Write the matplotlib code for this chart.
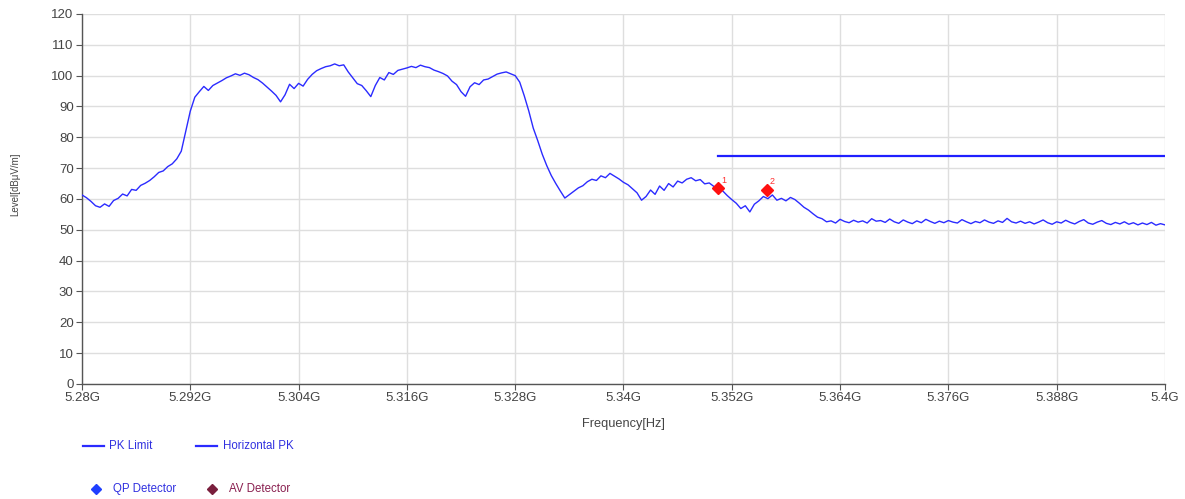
import numpy as np
import matplotlib
matplotlib.use('Agg')
import matplotlib.pyplot as plt
from matplotlib.lines import Line2D

plt.rcParams['font.family'] = ['Liberation Sans', 'DejaVu Sans']

# Sweep: 5.28 GHz .. 5.40 GHz, one reading every 0.5 MHz
f_start = 5.28e9
f_step = 0.5e6
level = [
    61.3, 60.4, 59.2, 57.8, 57.3, 58.4, 57.6, 59.5, 60.2, 61.6,
    61.0, 63.1, 62.8, 64.4, 65.1, 66.0, 67.2, 68.6, 69.1, 70.5,
    71.4, 73.0, 75.5, 82.0, 88.5, 93.0, 94.8, 96.5, 95.2, 96.8,
    97.6, 98.4, 99.3, 99.9, 100.6, 100.1, 100.8, 100.3, 99.4, 98.7,
    97.6, 96.3, 95.0, 93.6, 91.5, 93.8, 97.2, 95.8, 97.5, 96.6,
    98.8, 100.4, 101.6, 102.3, 102.9, 103.2, 103.8, 103.2, 103.5, 101.2,
    99.3, 97.4, 96.8, 95.1, 93.2, 96.8, 99.4, 98.6, 101.0, 100.4,
    101.7, 102.1, 102.5, 103.0, 102.6, 103.4, 102.9, 102.6, 101.8, 101.3,
    100.7, 99.9, 98.2, 97.1, 94.8, 93.3, 96.4, 97.7, 97.1, 98.6,
    98.9, 99.7, 100.5, 100.9, 101.2, 100.6, 100.0, 97.9, 93.5, 88.6,
    83.0, 78.9, 74.5, 70.8, 67.6, 65.0, 62.6, 60.3, 61.4, 62.5,
    63.6, 64.3, 65.6, 66.4, 66.0, 67.5, 66.9, 68.3, 67.4, 66.5,
    65.4, 64.6, 63.3, 62.0, 59.6, 60.8, 62.9, 61.5, 64.2, 62.8,
    65.0, 63.9, 65.8, 65.2, 66.4, 66.9, 65.9, 66.3, 64.9, 65.2,
    64.1, 63.3, 62.6, 61.1, 59.8, 58.6, 56.9, 57.8, 55.8, 58.3,
    59.4, 60.8, 60.1, 61.3, 59.6, 60.2, 59.4, 60.5, 59.8, 58.6,
    57.3, 56.4, 55.2, 54.1, 53.6, 52.6, 52.9, 52.2, 53.4, 52.7,
    52.3, 53.1, 52.5, 52.9, 52.2, 53.6, 52.8, 53.0, 52.4, 53.5,
    52.6, 52.1, 53.2, 52.5, 52.0, 52.9, 52.3, 53.4, 52.7, 52.1,
    52.8, 52.3, 53.0, 52.5, 52.2, 53.3, 52.6, 52.0, 52.7, 52.3,
    53.2, 52.5, 52.1, 52.9, 52.4, 53.7, 52.6, 52.2, 52.8, 52.1,
    52.6, 51.9, 52.5, 53.2, 52.3, 51.8, 52.6, 52.2, 53.1, 52.4,
    51.9, 52.7, 53.3, 52.2, 51.8, 52.5, 53.0, 52.1, 51.7, 52.4,
    51.9, 52.6, 51.8, 52.3, 51.6, 52.2, 51.7, 52.4, 51.5, 52.0,
    51.6,
]
freq = f_start + f_step * np.arange(len(level))

# PK limit line
limit_freq = [5.3505e9, 5.4e9]
limit_level = [74.0, 74.0]

# Marked peaks
marker_freq = [5.3505e9, 5.3559e9]
marker_level = [63.5, 62.9]
marker_names = ['1', '2']

xticks = [5.28e9, 5.292e9, 5.304e9, 5.316e9, 5.328e9, 5.34e9,
          5.352e9, 5.364e9, 5.376e9, 5.388e9, 5.4e9]
xtick_labels = ['5.28G', '5.292G', '5.304G', '5.316G', '5.328G', '5.34G',
                '5.352G', '5.364G', '5.376G', '5.388G', '5.4G']
yticks = np.arange(0, 121, 10)

trace_color = '#2b2bff'
text_color = '#444444'

fig = plt.figure(figsize=(11.85, 4.99), dpi=100, facecolor='white')
ax = fig.add_axes([0.0692, 0.2305, 0.9139, 0.7415])

ax.plot(freq, level, color=trace_color, lw=1.0, zorder=3)
ax.plot(limit_freq, limit_level, color='#1f1fff', lw=1.6, zorder=3)
ax.plot(marker_freq, marker_level, linestyle='none', marker='D', ms=6.5,
        color='#ff1010', zorder=4)
for mf, ml, name in zip(marker_freq, marker_level, marker_names):
    ax.annotate(name, (mf, ml), xytext=(2, 4), textcoords='offset points',
                color='#ff3030', fontsize=6.5, zorder=5)

ax.set_xlim(5.28e9, 5.4e9)
ax.set_ylim(0, 120)
ax.set_xticks(xticks)
ax.set_xticklabels(xtick_labels)
ax.set_yticks(yticks)
ax.grid(True, color='#dedede', lw=1.0)
ax.set_axisbelow(True)
for side in ['top', 'right']:
    ax.spines[side].set_visible(False)
for side in ['left', 'bottom']:
    ax.spines[side].set_color('#555555')
    ax.spines[side].set_linewidth(1.0)
ax.tick_params(axis='both', direction='out', length=4, width=0.8,
               color='#555555', labelsize=9.5, labelcolor=text_color, pad=2)

ax.set_xlabel('Frequency[Hz]', fontsize=9.2, color=text_color, labelpad=10)
fig.text(0.0127, 0.631, 'Level[dBμV/m]', rotation=90, fontsize=7,
         color=text_color, ha='center', va='center')

# Legend drawn below the axes
W, H = 1185.0, 499.0
def fx(px):
    return px / W
def fy(py):
    return 1 - py / H

fig.add_artist(Line2D([fx(83), fx(104)], [fy(446), fy(446)], color='#2b2bff',
                      lw=1.6, transform=fig.transFigure))
fig.text(fx(109), fy(446), 'PK Limit', color='#3030e0', fontsize=8.3, va='center')
fig.add_artist(Line2D([fx(196), fx(217)], [fy(446), fy(446)], color='#2b2bff',
                      lw=1.6, transform=fig.transFigure))
fig.text(fx(223), fy(446), 'Horizontal PK', color='#3030e0', fontsize=8.3, va='center')

fig.add_artist(Line2D([fx(96)], [fy(489)], marker='D', ms=5, color='#1f3fff',
                      linestyle='none', transform=fig.transFigure))
fig.text(fx(113), fy(489), 'QP Detector', color='#3030e0', fontsize=8.3, va='center')
fig.add_artist(Line2D([fx(212)], [fy(489)], marker='D', ms=5, color='#7a1f3d',
                      linestyle='none', transform=fig.transFigure))
fig.text(fx(229), fy(489), 'AV Detector', color='#8a2050', fontsize=8.3, va='center')

fig.savefig('out.png', dpi=100, facecolor='white')
